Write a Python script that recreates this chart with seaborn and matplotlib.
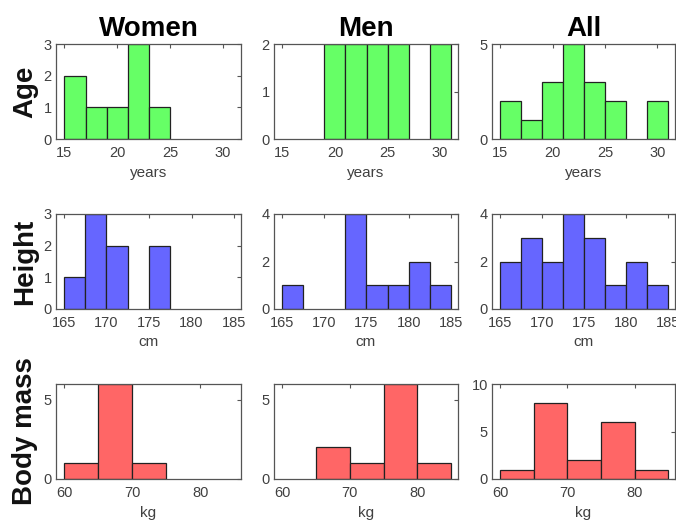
import numpy as np
import pandas as pd
import matplotlib
matplotlib.use("Agg")
import matplotlib.pyplot as plt
import seaborn as sns

# ---- data ----
groups = ["Women", "Men", "All"]
variables = ["Age", "Height", "Body mass"]
units = ["years", "cm", "kg"]

age_edges = [15, 17, 19, 21, 23, 25, 27, 29, 31]
height_edges = [165, 167.5, 170, 172.5, 175, 177.5, 180, 182.5, 185]
mass_edges = [60, 65, 70, 75, 80, 85]

age_women = [2, 1, 1, 3, 1, 0, 0, 0]
age_men = [0, 0, 2, 2, 2, 2, 0, 2]
age_all = [2, 1, 3, 5, 3, 2, 0, 2]

height_women = [1, 3, 2, 0, 2, 0, 0, 0]
height_men = [1, 0, 0, 4, 1, 1, 2, 1]
height_all = [2, 3, 2, 4, 3, 1, 2, 1]

mass_women = [1, 6, 1, 0, 0]
mass_men = [0, 2, 1, 6, 1]
mass_all = [1, 8, 2, 6, 1]

age_xticks = [15, 20, 25, 30]
height_xticks = [165, 170, 175, 180, 185]
mass_xticks = [60, 70, 80]

age_ylims = [3, 2, 5]
height_ylims = [3, 4, 4]
mass_ylims = [6, 6, 10]
age_yticks = [[0, 1, 2, 3], [0, 1, 2], [0, 5]]
height_yticks = [[0, 1, 2, 3], [0, 2, 4], [0, 2, 4]]
mass_yticks = [[0, 5], [0, 5], [0, 5, 10]]

# ---- style ----
sns.set_style("white")
plt.rcParams['font.family'] = ['Liberation Sans', 'DejaVu Sans']

colors = ["#66FF66", "#6666FF", "#FF6666"]
edge_col = "#222222"
axis_col = "#555555"
text_col = "#404040"

rows = [
    (age_edges, [age_women, age_men, age_all], age_xticks, age_ylims, age_yticks, (14.2, 31.7)),
    (height_edges, [height_women, height_men, height_all], height_xticks, height_ylims, height_yticks, (164.1, 185.8)),
    (mass_edges, [mass_women, mass_men, mass_all], mass_xticks, mass_ylims, mass_yticks, (58.8, 86.0)),
]

W, H = 676, 523
fig = plt.figure(figsize=(W / 100, H / 100), dpi=100)

col_left = [56, 274, 492]
col_w = [185, 184, 183]
row_top = [44, 214, 384]
ax_h = 95

for r, (edges, series, xt, ylims, yts, xlim) in enumerate(rows):
    edges_arr = np.array(edges, dtype=float)
    centers = (edges_arr[:-1] + edges_arr[1:]) / 2
    for c in range(3):
        ax = fig.add_axes([col_left[c] / W, 1 - (row_top[r] + ax_h) / H,
                           col_w[c] / W, ax_h / H])
        df = pd.DataFrame({"x": centers, "n": series[c]})
        sns.histplot(data=df, x="x", weights="n", bins=edges, ax=ax,
                     color=colors[r], edgecolor=edge_col, linewidth=0.9,
                     alpha=1.0)
        for p in ax.patches:
            if p.get_height() == 0:
                p.set_visible(False)
        ax.set_xlim(*xlim)
        ax.set_ylim(0, ylims[c])
        ax.set_xticks(xt)
        ax.set_yticks(yts[c])
        ax.tick_params(direction="in", top=True, right=True, length=3,
                       width=0.8, color=axis_col, labelcolor=text_col,
                       labelsize=10.5)
        ax.tick_params(axis="x", pad=5)
        ax.tick_params(axis="y", pad=3)
        for s in ax.spines.values():
            s.set_visible(True)
            s.set_color(axis_col)
            s.set_linewidth(0.9)
        ax.set_xlabel(units[r], fontsize=11, color=text_col, labelpad=4)
        ax.set_ylabel("")
        if r == 0:
            ax.set_title(groups[c], fontsize=20, fontweight="bold",
                         color="black", pad=6)
    fig.text(25 / W, 1 - (row_top[r] + ax_h / 2) / H, variables[r],
             rotation=90, fontsize=20, fontweight="bold",
             ha="center", va="center", color="#111111")

fig.savefig("out.png", dpi=100)
